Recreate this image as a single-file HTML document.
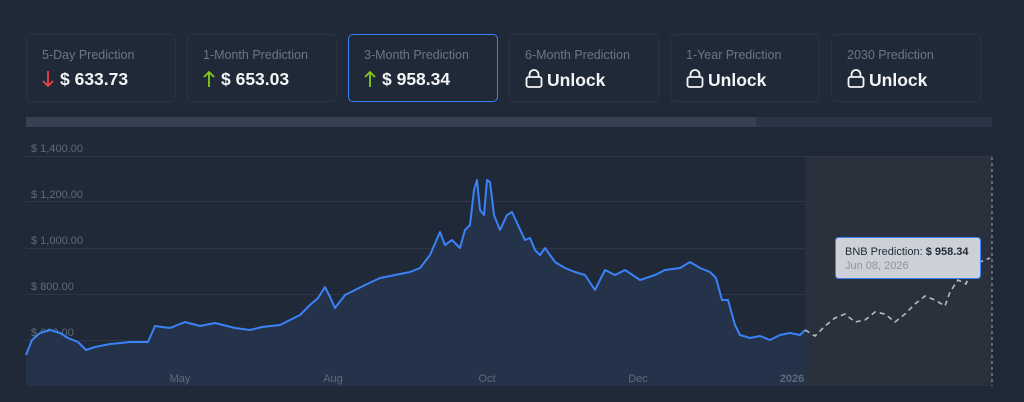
<!DOCTYPE html>
<html><head><meta charset="utf-8"><style>
body{margin:0;width:1024px;height:402px;background:#1f2937;font-family:"Liberation Sans",sans-serif;overflow:hidden;position:relative}
.card{position:absolute;top:34px;width:150px;height:68px;border:1px solid #2a3445;border-radius:5px;box-sizing:border-box;background:#1f2937}
.card.sel{border-color:#3b82f6}
.t{position:absolute;left:15px;top:13px;font-size:12.5px;color:#6b7687}
.v{position:absolute;left:15px;top:34px;font-size:17.5px;font-weight:bold;color:#f3f4f6;white-space:nowrap}
.ar{display:inline-block;vertical-align:-3px;margin-right:6px}
</style></head><body>
<div class="card" style="left:26px"><div class="t">5-Day Prediction</div><div class="v"><svg class="ar" width="12" height="18" viewBox="0 0 12 18"><path d="M6 1V16M1 11L6 16 11 11" fill="none" stroke="#ef4444" stroke-width="1.8"/></svg>$ 633.73</div></div>
<div class="card" style="left:187px"><div class="t">1-Month Prediction</div><div class="v"><svg class="ar" width="12" height="18" viewBox="0 0 12 18"><path d="M6 17V2M1 7L6 2 11 7" fill="none" stroke="#84cc16" stroke-width="1.8"/></svg>$ 653.03</div></div>
<div class="card sel" style="left:348px"><div class="t">3-Month Prediction</div><div class="v"><svg class="ar" width="12" height="18" viewBox="0 0 12 18"><path d="M6 17V2M1 7L6 2 11 7" fill="none" stroke="#84cc16" stroke-width="1.8"/></svg>$ 958.34</div></div>
<div class="card" style="left:509px"><div class="t">6-Month Prediction</div><div class="v"><svg width="18" height="20" viewBox="0 0 18 20" style="vertical-align:-3px;margin-right:4px"><rect x="1.5" y="8" width="15" height="10" rx="2" fill="none" stroke="#f3f4f6" stroke-width="1.8"/><path d="M4.5 8V5.5a4.5 4.5 0 0 1 9 0V8" fill="none" stroke="#f3f4f6" stroke-width="1.8"/></svg>Unlock</div></div>
<div class="card" style="left:670px"><div class="t">1-Year Prediction</div><div class="v"><svg width="18" height="20" viewBox="0 0 18 20" style="vertical-align:-3px;margin-right:4px"><rect x="1.5" y="8" width="15" height="10" rx="2" fill="none" stroke="#f3f4f6" stroke-width="1.8"/><path d="M4.5 8V5.5a4.5 4.5 0 0 1 9 0V8" fill="none" stroke="#f3f4f6" stroke-width="1.8"/></svg>Unlock</div></div>
<div class="card" style="left:831px"><div class="t">2030 Prediction</div><div class="v"><svg width="18" height="20" viewBox="0 0 18 20" style="vertical-align:-3px;margin-right:4px"><rect x="1.5" y="8" width="15" height="10" rx="2" fill="none" stroke="#f3f4f6" stroke-width="1.8"/><path d="M4.5 8V5.5a4.5 4.5 0 0 1 9 0V8" fill="none" stroke="#f3f4f6" stroke-width="1.8"/></svg>Unlock</div></div>
<div style="position:absolute;left:26px;top:117px;width:966px;height:10px;background:#2b3545"></div>
<div style="position:absolute;left:26px;top:117px;width:730px;height:10px;background:#374151"></div>
<svg width="1024" height="402" style="position:absolute;left:0;top:0" font-family="Liberation Sans, sans-serif">
<g stroke="#2d3748" stroke-width="1">
<line x1="26" x2="992" y1="156.5" y2="156.5"/><line x1="26" x2="992" y1="201.5" y2="201.5"/><line x1="26" x2="992" y1="248.5" y2="248.5"/><line x1="26" x2="992" y1="294.5" y2="294.5"/><line x1="26" x2="992" y1="340.5" y2="340.5"/></g>
<g fill="#5f6a7b" font-size="11"><text x="31" y="152">$ 1,400.00</text><text x="31" y="198">$ 1,200.00</text><text x="31" y="244">$ 1,000.00</text><text x="31" y="290">$ 800.00</text><text x="31" y="336">$ 600.00</text></g>
<rect x="805" y="157" width="187" height="229" fill="#2a313c"/>
<path d="M26,355 L32,340 40,333 50,330 60,333 68,338 78,342 86,350 95,347 110,344 130,342 148,342 155,326 170,328 185,322 200,326 215,323 235,328 250,330 262,327 280,325 290,320 300,315 310,305 318,298 325,287 330,297 335,308 345,295 355,290 365,285 380,278 395,275 410,272 420,268 430,255 440,232 445,245 452,240 460,248 465,230 470,225 474,190 477,180 480,210 484,215 487,180 490,182 494,215 500,230 507,215 512,212 518,225 525,240 530,238 535,250 540,255 545,248 555,262 565,268 575,272 585,275 595,290 605,270 615,275 625,270 640,280 655,275 665,270 680,268 690,262 700,268 710,272 716,278 722,300 728,300 735,325 740,335 750,338 760,336 770,340 780,335 790,333 800,335 805,330 L805,386 L26,386 Z" fill="#243349"/>
<path d="M26,355 L32,340 40,333 50,330 60,333 68,338 78,342 86,350 95,347 110,344 130,342 148,342 155,326 170,328 185,322 200,326 215,323 235,328 250,330 262,327 280,325 290,320 300,315 310,305 318,298 325,287 330,297 335,308 345,295 355,290 365,285 380,278 395,275 410,272 420,268 430,255 440,232 445,245 452,240 460,248 465,230 470,225 474,190 477,180 480,210 484,215 487,180 490,182 494,215 500,230 507,215 512,212 518,225 525,240 530,238 535,250 540,255 545,248 555,262 565,268 575,272 585,275 595,290 605,270 615,275 625,270 640,280 655,275 665,270 680,268 690,262 700,268 710,272 716,278 722,300 728,300 735,325 740,335 750,338 760,336 770,340 780,335 790,333 800,335 805,330" fill="none" stroke="#3b82f6" stroke-width="2" stroke-linejoin="round"/>
<path d="M805,330 815,336 825,326 835,318 845,314 855,322 865,320 875,312 885,314 895,322 905,314 915,304 925,296 935,300 945,306 950,292 958,280 966,284 972,268 980,262 990,258" fill="none" stroke="#b8bcc2" stroke-width="1.6" stroke-dasharray="5,4"/>
<line x1="992" x2="992" y1="157" y2="386" stroke="#9ca3af" stroke-width="1" stroke-dasharray="3,3"/>
<g fill="#5f6a7b" font-size="11" text-anchor="middle"><text x="180" y="382">May</text><text x="333" y="382">Aug</text><text x="487" y="382">Oct</text><text x="638" y="382">Dec</text><text x="792" y="382" font-weight="bold">2026</text></g>
<rect x="835.5" y="237.5" width="145" height="41" rx="3" fill="#cdd1d7" stroke="#3b82f6" stroke-width="1"/>
<text x="845" y="255" font-size="11" fill="#1f2937">BNB Prediction: <tspan font-weight="bold">$ 958.34</tspan></text>
<text x="845" y="269" font-size="11" fill="#8a93a0">Jun 08, 2026</text>
</svg>
</body></html>
